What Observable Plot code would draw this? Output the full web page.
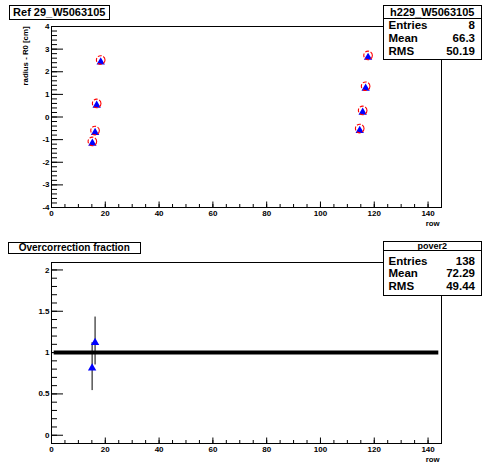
<!DOCTYPE html>
<html><head><meta charset="utf-8">
<script src="https://cdn.jsdelivr.net/npm/d3@7"></script>
<script src="https://cdn.jsdelivr.net/npm/@observablehq/plot@0.6"></script>
<style>
body{margin:0;background:#fff;}
#wrap{position:relative;width:496px;height:472px;overflow:hidden;font-family:"Liberation Sans",Arial,sans-serif;font-weight:bold;color:#000;}
.plot{position:absolute;left:0;}
.box{position:absolute;border:1px solid #000;background:#fff;box-sizing:border-box;}
.t{position:absolute;white-space:nowrap;line-height:1;transform:translateY(-50%);}
.hl{position:absolute;height:0;border-top:1px solid #000;}
</style></head><body><div id="wrap"></div>
<script>
// ---- data ----
const topTitle = "Ref 29_W5063105";
const bottomTitle = "Overcorrection fraction";
const topStatsName = "h229_W5063105";
const bottomStatsName = "pover2";
const statLabels = ["Entries", "Mean", "RMS"];
const topStatValues = ["8", "66.3", "50.19"];
const bottomStatValues = ["138", "72.29", "49.44"];

const topRows = [18.3, 16.8, 16.2, 15.2, 117.7, 116.8, 115.7, 114.6];
const topRadius = [2.52, 0.60, -0.60, -1.08, 2.72, 1.36, 0.29, -0.51];

const fracRows = [15.1, 16.2];
const fracValues = [0.83, 1.14];
const fracErrors = [0.29, 0.29];
const fracLineRows = [1, 144];
const fracLineLevel = [1];

const xDomain = [0, 145];
const xMajorTicks = [0, 20, 40, 60, 80, 100, 120, 140];
const xMinorTicks = [0,5,10,15,20,25,30,35,40,45,50,55,60,65,70,75,80,85,90,95,100,105,110,115,120,125,130,135,140,145];
const topYDomain = [-4, 4];
const topYMajor = [-4, -3, -2, -1, 0, 1, 2, 3, 4];
const topYMinor = d3.range(-20, 21).map(i => i / 5);
const botYDomain = [-0.1, 2.09];
const botYMajor = [0, 0.5, 1, 1.5, 2];
const botYMinor = d3.range(-1, 21).map(i => i / 10);
const yLabelTop = "radius - R0 [cm]";
const xLabel = "row";

// ---- helpers ----
const wrap = document.getElementById("wrap");
const plain = d => String(d);

function panel(yDomain, yMajor, yMinor, dataMarks, ylabel) {
  const marks = [
    ...dataMarks,
    Plot.axisX(xMinorTicks, {tickSize: -3, fill: "none", label: null}),
    Plot.axisX(xMajorTicks, {tickSize: -5.5, fill: "none", label: null}),
    Plot.axisX(xMajorTicks, {tickSize: 0, tickPadding: 3, label: null, fontSize: 8, tickFormat: plain}),
    Plot.axisY(yMinor, {tickSize: -6, fill: "none", label: null}),
    Plot.axisY(yMajor, {tickSize: -12, fill: "none", label: null}),
    Plot.axisY(yMajor, {tickSize: 0, tickPadding: 2, label: null, fontSize: 8, tickFormat: plain}),
    Plot.frame({stroke: "black"}),
    Plot.text([xLabel], {frameAnchor: "bottom-right", textAnchor: "end", lineAnchor: "top", dx: -2, dy: 12.5, fontSize: 7.8})
  ];
  if (ylabel) marks.push(Plot.text([ylabel], {frameAnchor: "top-left", rotate: -90, textAnchor: "end", dx: -29.3, fontSize: 7.8}));
  return Plot.plot({
    width: 496, height: 236,
    marginLeft: 51, marginRight: 55, marginTop: 26, marginBottom: 29,
    style: {fontFamily: "'Liberation Sans', Arial, sans-serif", fontWeight: "bold", background: "transparent", color: "black"},
    x: {domain: xDomain},
    y: {domain: yDomain},
    marks
  });
}

function place(el, y) {
  el.classList.add("plot");
  el.style.top = y + "px";
  wrap.appendChild(el);
}

function textAt(parent, str, opts) {
  const d = document.createElement("div");
  d.className = "t";
  d.textContent = str;
  Object.assign(d.style, opts);
  parent.appendChild(d);
  return d;
}

function box(left, y, w, h) {
  const b = document.createElement("div");
  b.className = "box";
  Object.assign(b.style, {left: left + "px", top: y + "px", width: w + "px", height: h + "px"});
  wrap.appendChild(b);
  return b;
}

// ---- top panel ----
const topData = topRows.map((r, i) => ({row: r, radius: topRadius[i]}));
const topChart = panel(topYDomain, topYMajor, topYMinor, [
  Plot.dot(topData, {x: "row", y: "radius", symbol: "triangle", r: 3.1, fill: "#0000ff", stroke: "none", dy: 2}),
  Plot.dot(topData, {x: "row", y: "radius", r: 4.3, fill: "none", stroke: "#ff0000", strokeWidth: 1.1, strokeDasharray: "4,1.6"})
], yLabelTop);
place(topChart, 0);

// ---- bottom panel ----
const fracData = fracRows.map((r, i) => ({row: r, v: fracValues[i], e: fracErrors[i]}));
const bottomChart = panel(botYDomain, botYMajor, botYMinor, [
  Plot.ruleY(fracLineLevel, {x1: fracLineRows[0], x2: fracLineRows[1], stroke: "black", strokeWidth: 4}),
  Plot.ruleX(fracData, {x: "row", y1: d => d.v - d.e, y2: d => d.v + d.e, stroke: "black", strokeWidth: 1}),
  Plot.dot(fracData, {x: "row", y: "v", symbol: "triangle", r: 3.1, fill: "#0000ff", stroke: "none", dy: 1.5})
], null);
place(bottomChart, 236);

// ---- title boxes ----
const tb1 = box(8.5, 5, 101.5, 14.5);
textAt(tb1, topTitle, {left: "0", width: "100%", textAlign: "center", top: "50%", fontSize: "11px"});
const tb2 = box(8, 241.5, 132.5, 12);
textAt(tb2, bottomTitle, {left: "0", width: "100%", textAlign: "center", top: "50%", fontSize: "10px"});

// ---- stats boxes ----
function statsBox(y, height, name, nameSize, nameCy, dividerY, values, rowCys) {
  const b = box(383, y, 98.5, height);
  textAt(b, name, {left: "0", width: "100%", textAlign: "center", top: nameCy + "px", fontSize: nameSize + "px"});
  const hl = document.createElement("div");
  hl.className = "hl";
  Object.assign(hl.style, {left: "0", width: "100%", top: dividerY + "px"});
  b.appendChild(hl);
  statLabels.forEach((lab, i) => {
    textAt(b, lab, {left: "4.5px", top: rowCys[i] + "px", fontSize: "11.5px"});
    textAt(b, values[i], {right: "5.5px", top: rowCys[i] + "px", fontSize: "11.5px", textAlign: "right"});
  });
}
statsBox(5, 55, topStatsName, 11, 6.2, 11.5, topStatValues, [19.6, 32.6, 46.2]);
statsBox(241, 54.5, bottomStatsName, 9, 3.8, 7.5, bottomStatValues, [19.5, 32, 45.4]);
</script>
</body></html>
